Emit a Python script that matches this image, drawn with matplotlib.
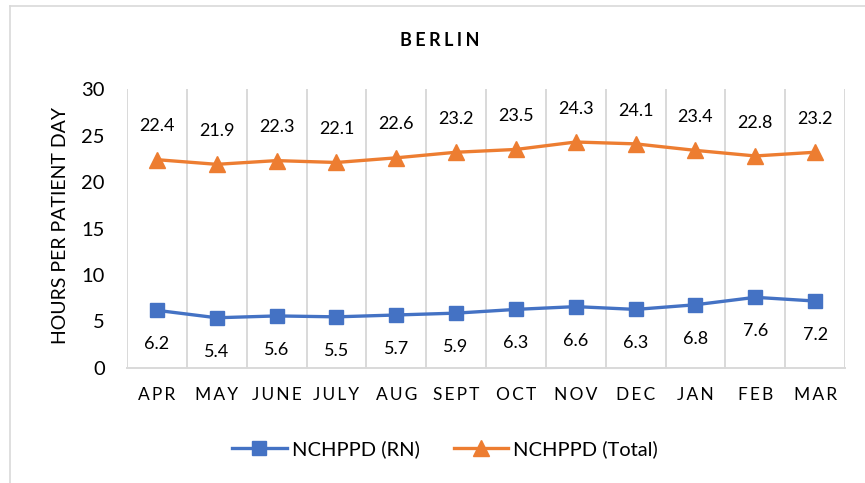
import numpy as np
import matplotlib

matplotlib.use("Agg")
import matplotlib.pyplot as plt
from matplotlib.lines import Line2D

months = ["APR", "MAY", "JUNE", "JULY", "AUG", "SEPT", "OCT", "NOV", "DEC", "JAN", "FEB", "MAR"]
rn_hours = [6.2, 5.4, 5.6, 5.5, 5.7, 5.9, 6.3, 6.6, 6.3, 6.8, 7.6, 7.2]
total_hours = [22.4, 21.9, 22.3, 22.1, 22.6, 23.2, 23.5, 24.3, 24.1, 23.4, 22.8, 23.2]
y_ticks = [0, 5, 10, 15, 20, 25, 30]

BLUE = "#4472C4"
ORANGE = "#ED7D31"
GRID = "#D9D9D9"
FONT = ["Lato", "DejaVu Sans"]

plt.rcParams["font.family"] = FONT


def spaced(s, sep="\u2009"):
    # Excel-style letter spacing on caps labels
    return sep.join(s)


fig = plt.figure(figsize=(8.65, 4.83), dpi=100)
ax = fig.add_axes([127 / 865, (483 - 368) / 483, 718 / 865, 279 / 483])

xs = np.arange(len(months))
ax.plot(xs, rn_hours, color=BLUE, lw=2.4, marker="s", ms=10.5, zorder=3)
ax.plot(xs, total_hours, color=ORANGE, lw=2.4, marker="^", ms=11.5, zorder=3)

for x, v in zip(xs, total_hours):
    ax.annotate(f"{v:.1f}", (x, v), xytext=(0, 24), textcoords="offset points",
                ha="center", va="center", fontsize=13, color="#000000")
for x, v in zip(xs, rn_hours):
    ax.annotate(f"{v:.1f}", (x, v), xytext=(0, -24.5), textcoords="offset points",
                ha="center", va="center", fontsize=13, color="#000000")

ax.set_xlim(-0.5, len(months) - 0.5)
ax.set_ylim(0, 30)
ax.set_yticks(y_ticks)
ax.set_yticklabels([str(t) for t in y_ticks], fontsize=14.5)
ax.set_xticks(xs)
ax.set_xticklabels([spaced(m) for m in months], fontsize=12.5)
ax.set_xticks(np.arange(-0.5, len(months)), minor=True)
ax.tick_params(axis="both", which="both", length=0)
ax.tick_params(axis="y", pad=16)
ax.tick_params(axis="x", pad=14)
ax.grid(which="minor", axis="x", color=GRID, lw=1.4)
ax.grid(which="major", axis="both", visible=False)
for side in ("top", "left", "right"):
    ax.spines[side].set_visible(False)
ax.spines["bottom"].set_color(GRID)
ax.spines["bottom"].set_linewidth(1.4)

# axis title placed directly in figure pixels
fig.text(61 / 865, 1 - 225 / 483, "HOURS PER PATIENT DAY", rotation=90,
         ha="center", va="center", fontsize=14)

fig.text(440 / 865, 1 - 41 / 483, spaced("BERLIN", "\u2009\u200a"), ha="center", va="center",
         fontsize=13, fontweight="bold")

handles = [
    Line2D([], [], color=BLUE, lw=2.4, marker="s", ms=10.5),
    Line2D([], [], color=ORANGE, lw=2.4, marker="^", ms=11.5),
]
fig.legend(handles, ["NCHPPD (RN)", "NCHPPD (Total)"], loc="center",
           bbox_to_anchor=(445 / 865, 1 - 449 / 483), ncol=2, frameon=False,
           fontsize=14.5, handlelength=2.7, handletextpad=0.25, columnspacing=1.7)

# chart-area border (top and left edges visible in the crop)
fig.add_artist(Line2D([10 / 865, 1], [1 - 6 / 483] * 2, transform=fig.transFigure,
                      color=GRID, lw=1.2))
fig.add_artist(Line2D([10 / 865] * 2, [0, 1 - 6 / 483], transform=fig.transFigure,
                      color=GRID, lw=1.2))

fig.savefig("out.png", dpi=100)
